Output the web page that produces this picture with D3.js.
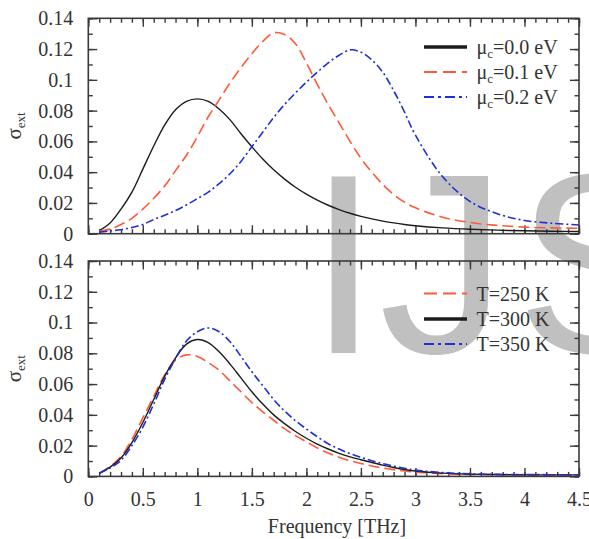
<!DOCTYPE html>
<html>
<head>
<meta charset="utf-8">
<script src="https://cdn.jsdelivr.net/npm/d3@7"></script>
<style>
  html, body { margin: 0; padding: 0; background: #fff; }
  svg { display: block; }
</style>
</head>
<body>
<svg id="chart" width="589" height="539"></svg>
<script>
// ---------------- data ----------------
const freq = [0.1,0.2,0.3,0.4,0.5,0.6,0.7,0.8,0.9,1.0,
              1.1,1.2,1.3,1.4,1.5,1.6,1.7,1.8,1.9,2.0,
              2.1,2.2,2.3,2.4,2.5,2.6,2.7,2.8,2.9,3.0,
              3.25,3.5,3.75,4.0,4.25,4.5];

// top panel: chemical potential
const mu00 = [0.002,0.007,0.016,0.027,0.042,0.057,0.0705,0.0805,0.086,0.0876,
              0.086,0.081,0.074,0.065,0.0565,0.0485,0.0415,0.0355,0.0302,0.0257,
              0.0218,0.0185,0.0157,0.0133,0.0113,0.0096,0.0082,0.007,0.006,0.0052,
              0.0038,0.0029,0.0023,0.0019,0.0016,0.0014];
const mu01 = [0.0015,0.003,0.006,0.010,0.016,0.023,0.031,0.041,0.051,0.063,
              0.076,0.087,0.098,0.108,0.117,0.125,0.1305,0.1295,0.1235,0.111,
              0.097,0.084,0.072,0.060,0.049,0.040,0.032,0.0255,0.0205,0.0168,
              0.0107,0.0073,0.0054,0.0043,0.0038,0.0035];
const mu02 = [0.001,0.0018,0.0026,0.004,0.006,0.0092,0.012,0.015,0.0187,0.0228,
              0.027,0.0325,0.039,0.047,0.0565,0.066,0.0755,0.084,0.0915,0.0985,
              0.105,0.111,0.116,0.1195,0.118,0.113,0.105,0.093,0.079,0.064,
              0.037,0.021,0.013,0.0086,0.0068,0.0057];

// bottom panel: temperature
const t250 = [0.002,0.0065,0.013,0.024,0.038,0.052,0.066,0.0755,0.079,0.078,
              0.074,0.069,0.062,0.055,0.048,0.042,0.0365,0.031,0.0265,0.0225,
              0.0185,0.0152,0.0125,0.0102,0.0084,0.0068,0.0055,0.0044,0.0035,0.0028,
              0.0018,0.0013,0.0011,0.001,0.001,0.001];
const t300 = [0.002,0.006,0.012,0.022,0.035,0.050,0.065,0.077,0.086,0.089,
              0.087,0.081,0.073,0.064,0.055,0.047,0.040,0.0343,0.0292,0.0248,
              0.021,0.0178,0.015,0.0127,0.0108,0.009,0.0073,0.0058,0.0045,0.0035,
              0.0021,0.0015,0.0012,0.001,0.001,0.001];
const t350 = [0.002,0.0055,0.0105,0.020,0.032,0.047,0.063,0.0766,0.088,0.094,
              0.0965,0.094,0.0875,0.078,0.068,0.059,0.050,0.0425,0.0362,0.0308,
              0.0258,0.0212,0.0178,0.0148,0.0124,0.0102,0.0083,0.0067,0.0053,0.0041,
              0.0025,0.0017,0.0013,0.0012,0.0011,0.0011];

const topLabels = ["0.0", "0.1", "0.2"];
const bottomLabels = ["T=250 K", "T=300 K", "T=350 K"];
const xTicks = [0,0.5,1,1.5,2,2.5,3,3.5,4,4.5];
const yTicks = [0,0.02,0.04,0.06,0.08,0.1,0.12,0.14];
const xLabel = "Frequency [THz]";
const watermark = ["I", "J", "S"];

// ---------------- layout ----------------
const svg = d3.select("#chart");
const L = 88.3, R = 579;
const panels = [
  { top: 18.3, bottom: 233.7,
    series: [
      { data: mu00, color: "#1c1c1c", dash: null, w: 1.4, lw: 3.5, label: topLabels[0], sub: true },
      { data: mu01, color: "#ff5a36", dash: "11,5", w: 1.6, lw: 2, label: topLabels[1], sub: true },
      { data: mu02, color: "#1f2fd6", dash: "8,3,2,3", w: 1.6, lw: 2, label: topLabels[2], sub: true }
    ],
    legendY: [47, 72, 97] },
  { top: 261, bottom: 476.4,
    series: [
      { data: t250, color: "#ff5a36", dash: "11,5", w: 1.6, lw: 2, label: bottomLabels[0] },
      { data: t300, color: "#1c1c1c", dash: null, w: 1.4, lw: 3.5, label: bottomLabels[1] },
      { data: t350, color: "#1f2fd6", dash: "8,3,2,3", w: 1.6, lw: 2, label: bottomLabels[2] }
    ],
    legendY: [293.5, 319, 344] }
];

const serif = "'Liberation Serif','Times New Roman',serif";

// watermark behind everything
const wm = svg.append("g").attr("fill", "#c0c0c0")
  .style("font-family", "'Liberation Sans',Arial,sans-serif")
  .style("font-size", "256px");
const wmX = [308, 379, 516];
watermark.forEach((ch, i) =>
  wm.append("text").attr("x", wmX[i]).attr("y", 353).text(ch));

const x = d3.scaleLinear().domain([0, 4.5]).range([L, R]);
const xMinor = d3.range(0, 4.51, 0.1).map(v => +v.toFixed(1));
const yMinor = d3.range(0, 0.1401, 0.01).map(v => +v.toFixed(2));
const fmtY = d => d === 0 ? "0" : String(+d.toFixed(2));
const fmtX = d => String(d);

panels.forEach((p, pi) => {
  const y = d3.scaleLinear().domain([0, 0.14]).range([p.bottom, p.top]);
  const g = svg.append("g");

  const bottomMinor = d3.axisBottom(x).tickValues(xMinor).tickSize(-4.5).tickFormat("");
  const bottomMajor = d3.axisBottom(x).tickValues(xTicks).tickSize(-8.5)
      .tickPadding(15).tickFormat(pi === 1 ? fmtX : "");
  const topMinor = d3.axisTop(x).tickValues(xMinor).tickSize(-4.5).tickFormat("");
  const topMajor = d3.axisTop(x).tickValues(xTicks).tickSize(-8.5).tickFormat("");
  const leftMinor = d3.axisLeft(y).tickValues(yMinor).tickSize(-4.5).tickFormat("");
  const leftMajor = d3.axisLeft(y).tickValues(yTicks).tickSize(-9).tickPadding(15).tickFormat(fmtY);
  const rightMinor = d3.axisRight(y).tickValues(yMinor).tickSize(-4.5).tickFormat("");
  const rightMajor = d3.axisRight(y).tickValues(yTicks).tickSize(-9).tickFormat("");

  const axes = [
    [bottomMinor, `translate(0,${p.bottom})`], [bottomMajor, `translate(0,${p.bottom})`],
    [topMinor, `translate(0,${p.top})`], [topMajor, `translate(0,${p.top})`],
    [leftMinor, `translate(${L},0)`], [leftMajor, `translate(${L},0)`],
    [rightMinor, `translate(${R},0)`], [rightMajor, `translate(${R},0)`]
  ];
  axes.forEach(([ax, tr]) => {
    const a = g.append("g").attr("transform", tr).call(ax);
    a.select(".domain").remove();
    a.selectAll(".tick line").attr("stroke", "#3a3a3a").attr("stroke-width", 1.4);
    a.selectAll(".tick text").attr("fill", "#333")
      .style("font-family", serif).style("font-size", "20px");
  });

  const line = d3.line()
    .x((d, i) => x(freq[i]))
    .y(d => y(d))
    .curve(d3.curveCatmullRom.alpha(0.5));
  p.series.forEach(s => {
    g.append("path").datum(s.data)
      .attr("d", line)
      .attr("fill", "none")
      .attr("stroke", s.color)
      .attr("stroke-width", s.w)
      .attr("stroke-dasharray", s.dash)
      .attr("stroke-linejoin", "round");
  });

  g.append("rect")
    .attr("x", L).attr("y", p.top)
    .attr("width", R - L).attr("height", p.bottom - p.top)
    .attr("fill", "none").attr("stroke", "#3a3a3a").attr("stroke-width", 1.6);

  p.series.forEach((s, k) => {
    const ly = p.legendY[k];
    g.append("line")
      .attr("x1", 424).attr("x2", 467).attr("y1", ly).attr("y2", ly)
      .attr("stroke", s.color).attr("stroke-width", s.lw)
      .attr("stroke-dasharray", s.dash === "11,5" ? "13,6" : (s.dash ? "10,4,3,4" : null));
    const t = g.append("text")
      .attr("x", 476.5).attr("y", ly + 7)
      .attr("fill", "#333")
      .style("font-family", serif).style("font-size", "20px");
    if (s.sub) {
      t.append("tspan").text("μ");
      t.append("tspan").attr("dy", 4).style("font-size", "13px").text("c");
      t.append("tspan").attr("dy", -4).text("=" + s.label + " eV");
    } else {
      t.text(s.label);
    }
  });

  const yl = svg.append("text")
    .attr("transform", `translate(21,${(p.top + p.bottom) / 2}) rotate(-90)`)
    .attr("text-anchor", "middle")
    .attr("fill", "#333")
    .style("font-family", serif).style("font-size", "21px");
  yl.append("tspan").text("σ");
  yl.append("tspan").attr("dy", 4).style("font-size", "13px").text("ext");
});

svg.append("text")
  .attr("x", 337).attr("y", 533)
  .attr("text-anchor", "middle")
  .attr("fill", "#333")
  .style("font-family", serif).style("font-size", "20px")
  .text(xLabel);
</script>
</body>
</html>
